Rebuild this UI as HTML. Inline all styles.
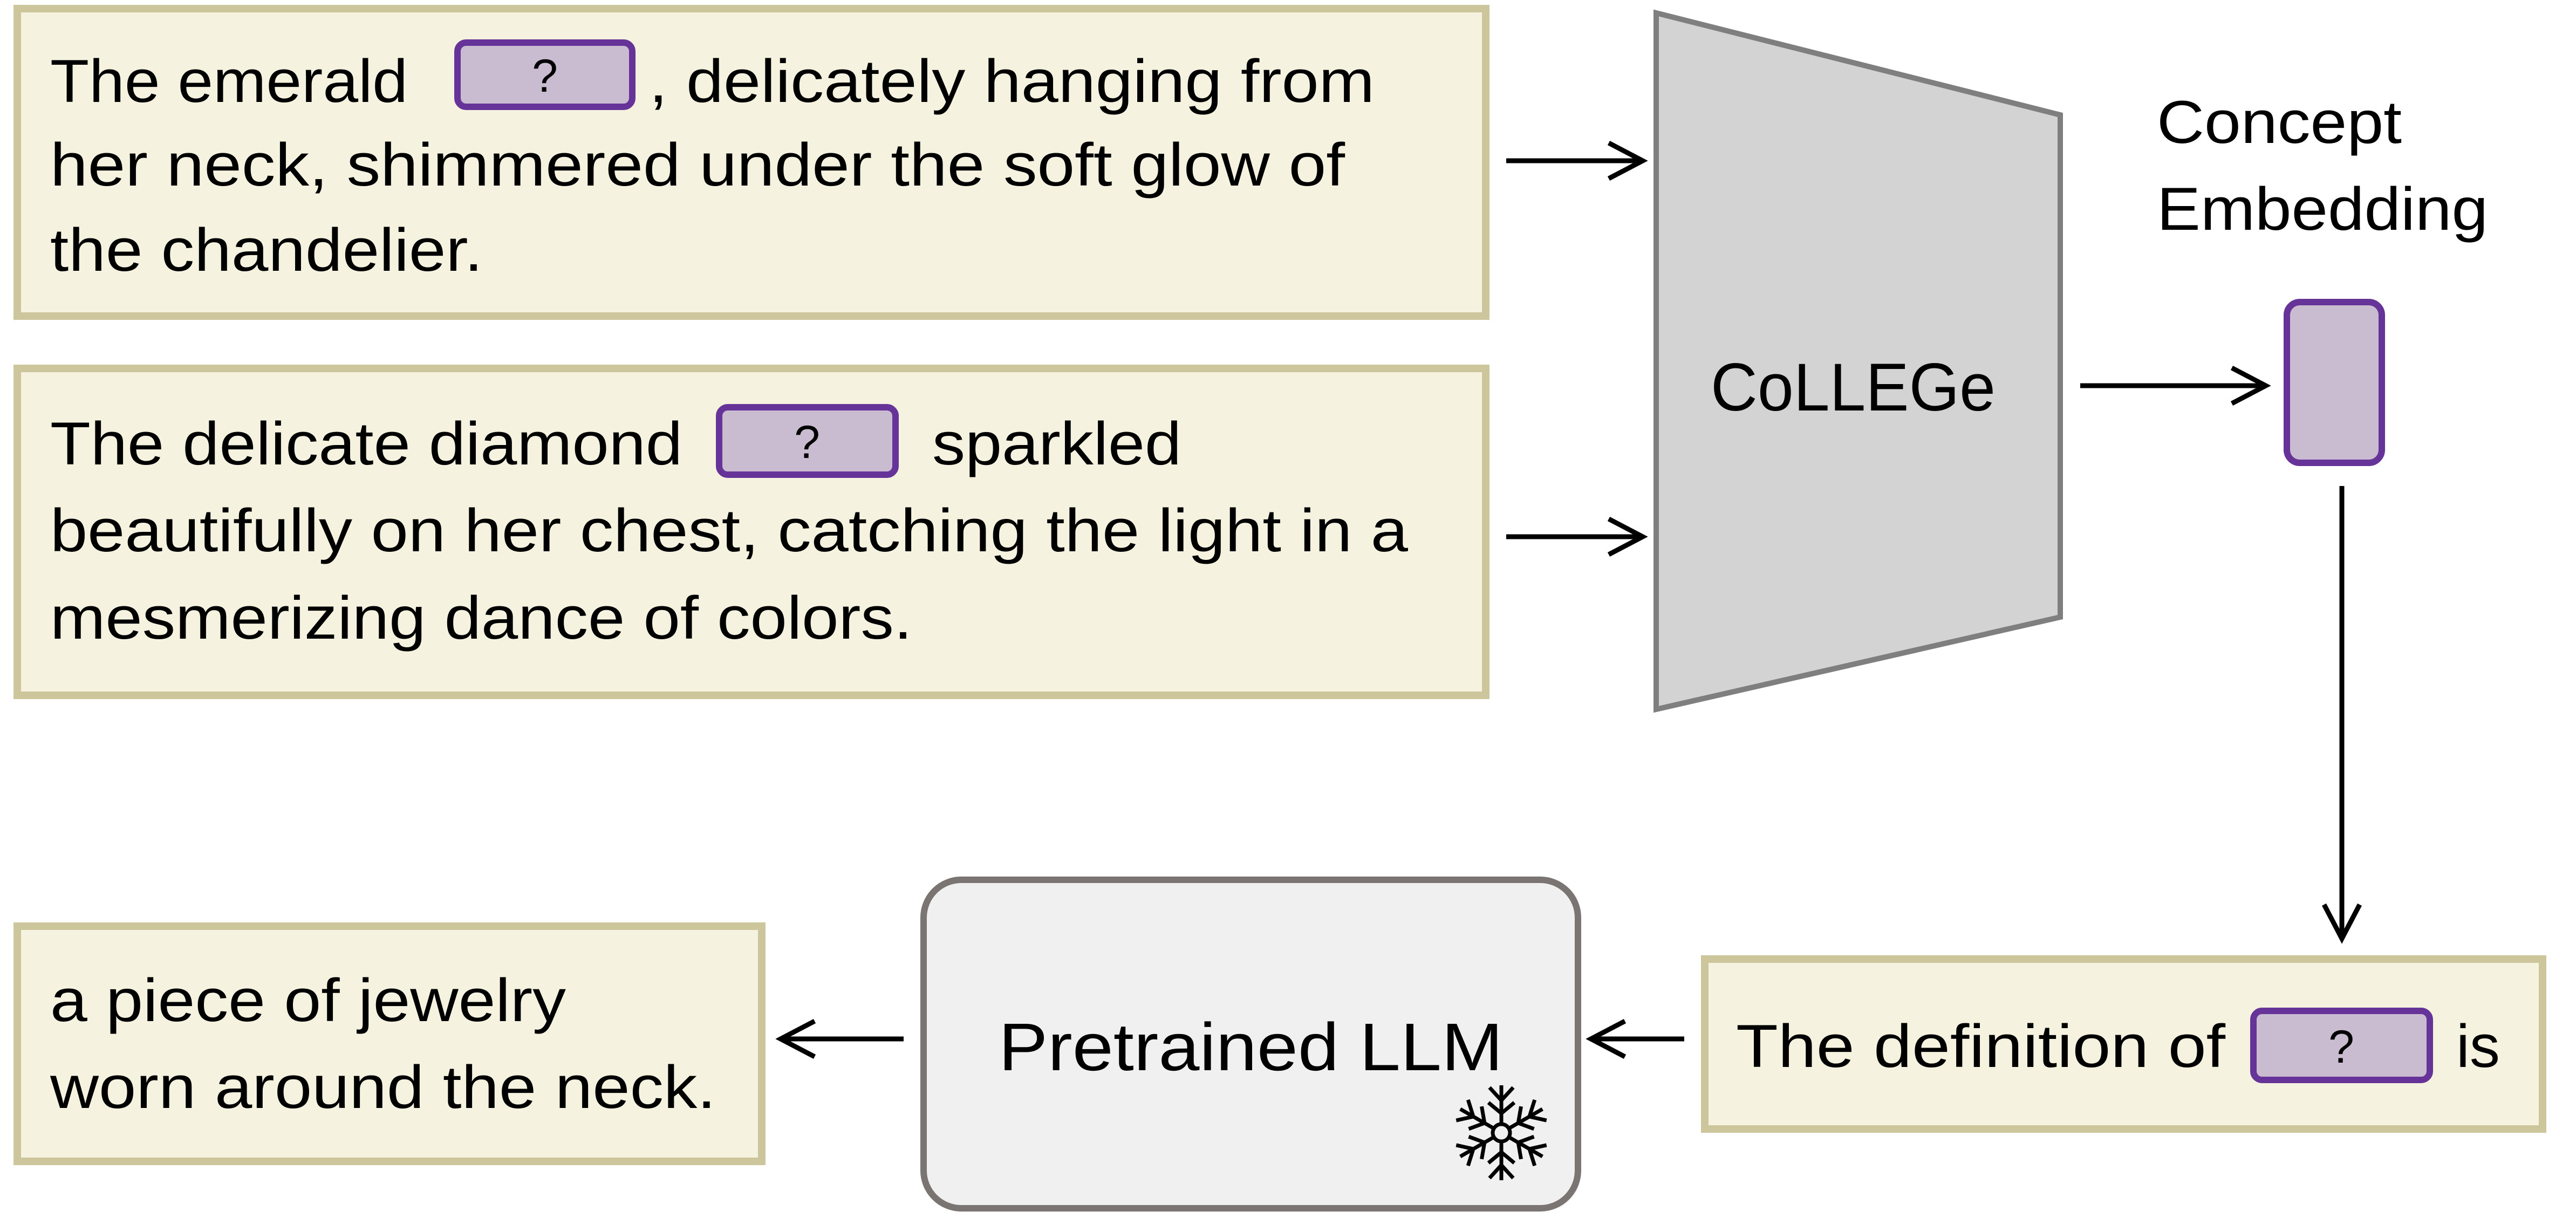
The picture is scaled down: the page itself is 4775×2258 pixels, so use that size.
<!DOCTYPE html>
<html><head><meta charset="utf-8"><style>html,body{margin:0;padding:0;background:#fff}svg{display:block}</style></head>
<body>
<svg width="4775" height="2258" viewBox="0 0 4775 2258" xmlns="http://www.w3.org/2000/svg" font-family="Liberation Sans, sans-serif">
<g fill="#f5f2e0" stroke="#cdc59b" stroke-width="14">
<rect x="32" y="16" width="2722" height="570"/>
<rect x="32" y="683" width="2722" height="606"/>
<rect x="32" y="1717" width="1380" height="436"/>
<rect x="3160" y="1778" width="1553" height="315"/>
</g>
<g fill="#c9bbd0" stroke="#663399" stroke-width="12">
<rect x="848" y="79" width="324" height="119" rx="16"/>
<rect x="1333" y="755" width="327" height="125" rx="16"/>
<rect x="4177" y="1874" width="327" height="128" rx="16"/>
<rect x="4239" y="560" width="176" height="298" rx="24"/>
</g>
<polygon points="3070,24 3819,213 3819,1144 3070,1315" fill="#d3d3d3" stroke="#7f7f7f" stroke-width="10"/>
<rect x="1712" y="1631" width="1213" height="609" rx="70" fill="#f0f0f0" stroke="#7a7572" stroke-width="12"/>
<g stroke="#000" stroke-width="9" fill="none">
<line x1="2792" y1="298" x2="3045" y2="298"/><polyline points="2982,265 3045,298 2982,331"/>
<line x1="2792" y1="995" x2="3045" y2="995"/><polyline points="2982,962 3045,995 2982,1028"/>
<line x1="3856" y1="715" x2="4200" y2="715"/><polyline points="4137,682 4200,715 4137,748"/>
<line x1="4341" y1="901" x2="4341" y2="1740"/><polyline points="4308,1677 4341,1740 4374,1677"/>
<line x1="3122" y1="1926" x2="2949" y2="1926"/><polyline points="3012,1893 2949,1926 3012,1959"/>
<line x1="1675" y1="1926" x2="1447" y2="1926"/><polyline points="1510,1893 1447,1926 1510,1959"/>
</g>
<g font-size="112" fill="#000">
<text x="93" y="189" textLength="663" lengthAdjust="spacingAndGlyphs">The emerald</text>
<text x="1203" y="189" textLength="1345" lengthAdjust="spacingAndGlyphs">, delicately hanging from</text>
<text x="93" y="344" textLength="2400" lengthAdjust="spacingAndGlyphs">her neck, shimmered under the soft glow of</text>
<text x="93" y="502" textLength="802" lengthAdjust="spacingAndGlyphs">the chandelier.</text>
<text x="93" y="861" textLength="1172" lengthAdjust="spacingAndGlyphs">The delicate diamond</text>
<text x="1728" y="861" textLength="462" lengthAdjust="spacingAndGlyphs">sparkled</text>
<text x="93" y="1022" textLength="2517" lengthAdjust="spacingAndGlyphs">beautifully on her chest, catching the light in a</text>
<text x="93" y="1184" textLength="1598" lengthAdjust="spacingAndGlyphs">mesmerizing dance of colors.</text>
<text x="3998" y="265" textLength="454" lengthAdjust="spacingAndGlyphs">Concept</text>
<text x="3998" y="426" textLength="614" lengthAdjust="spacingAndGlyphs">Embedding</text>
<text x="3218" y="1978" textLength="907" lengthAdjust="spacingAndGlyphs">The definition of</text>
<text x="4553" y="1978" textLength="81" lengthAdjust="spacingAndGlyphs">is</text>
<text x="93" y="1893" textLength="956" lengthAdjust="spacingAndGlyphs">a piece of jewelry</text>
<text x="93" y="2054" textLength="1234" lengthAdjust="spacingAndGlyphs">worn around the neck.</text>
</g>
<g font-size="125" fill="#000">
<text x="3171" y="761" textLength="528" lengthAdjust="spacingAndGlyphs">CoLLEGe</text>
<text x="1851" y="1984" textLength="935" lengthAdjust="spacingAndGlyphs">Pretrained LLM</text>
</g>
<g font-size="86" fill="#000" text-anchor="middle">
<text x="1010" y="170">?</text>
<text x="1496" y="849">?</text>
<text x="4340" y="1970">?</text>
</g>
<g stroke="#000" stroke-width="7" fill="none" transform="translate(2783,2100)">
<circle r="16"/>
<g id="arm"><line x1="0" y1="-16" x2="0" y2="-88"/><polyline points="-22,-84 0,-60 22,-84"/><polyline points="-24,-56 0,-36 24,-56"/></g>
<use href="#arm" transform="rotate(60)"/>
<use href="#arm" transform="rotate(120)"/>
<use href="#arm" transform="rotate(180)"/>
<use href="#arm" transform="rotate(240)"/>
<use href="#arm" transform="rotate(300)"/>
</g>
</svg>
</body></html>
